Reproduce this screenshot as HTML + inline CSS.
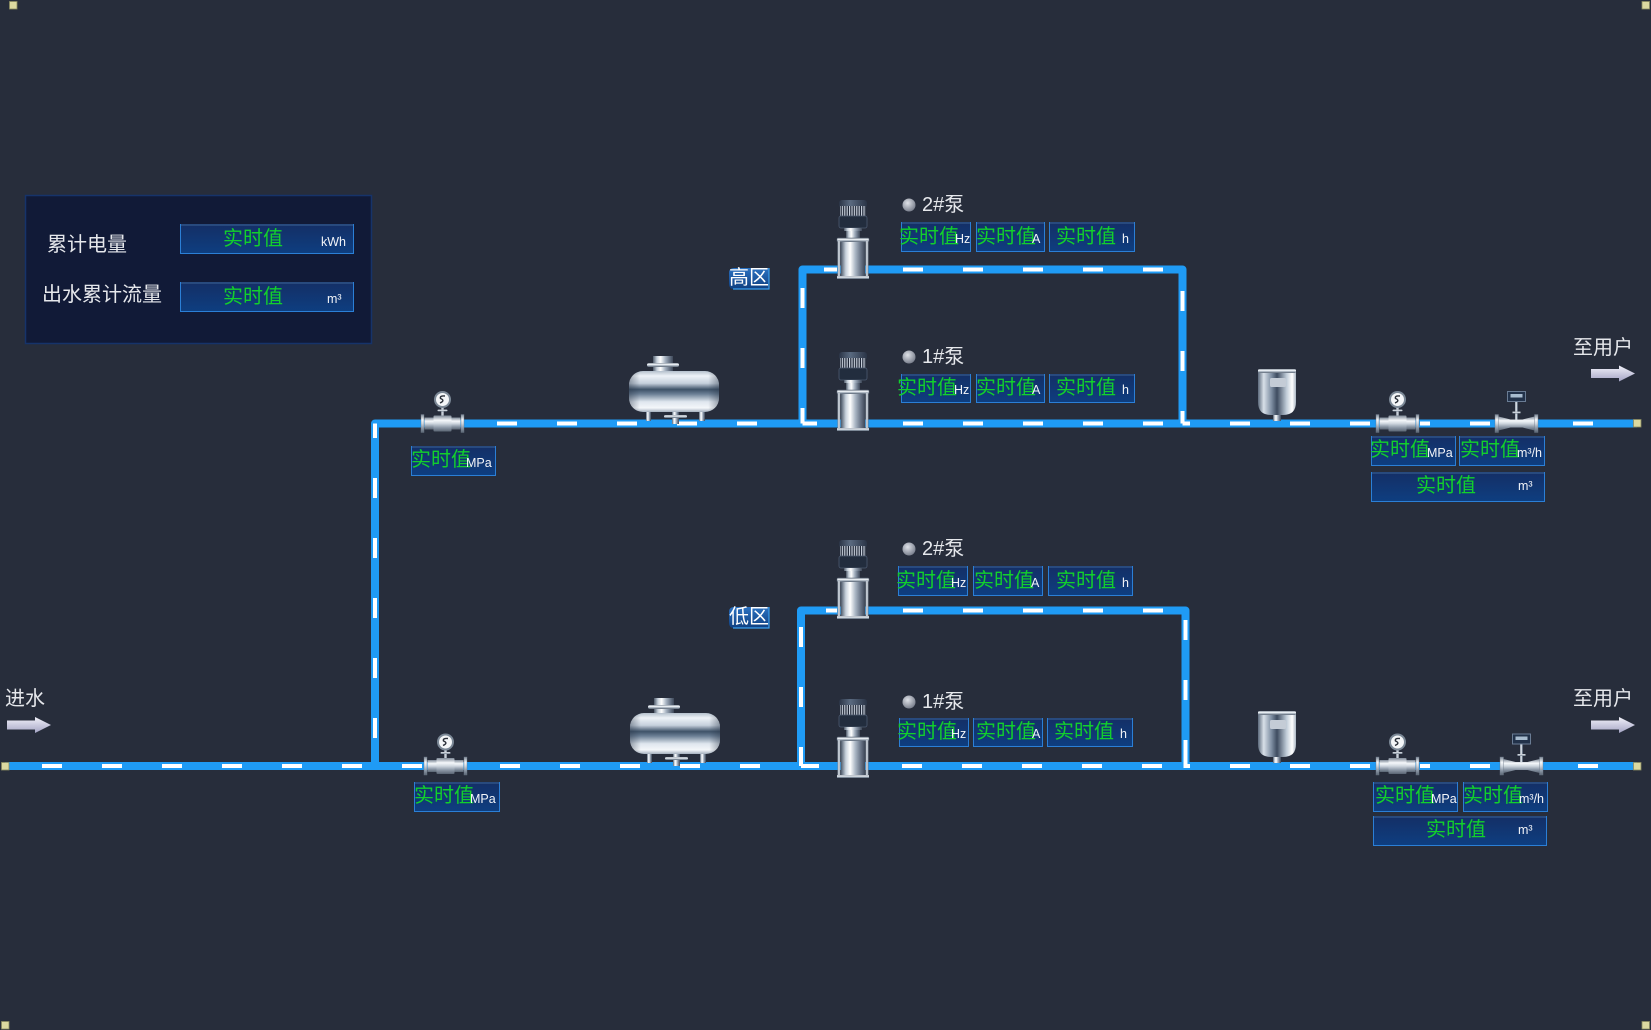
<!DOCTYPE html>
<html><head><meta charset="utf-8"><style>
html,body{margin:0;padding:0;background:#272d3b;}
svg{display:block;}
text{font-family:"Liberation Sans","Noto Sans CJK SC",sans-serif;}
.v{fill:#12d02c;font-size:20px;dominant-baseline:central;}
.u{fill:#f2f4f8;font-size:12.5px;dominant-baseline:central;}
.l{fill:#e6e8ec;font-size:20px;dominant-baseline:central;}
</style></head><body>
<svg width="1651" height="1030" viewBox="0 0 1651 1030" xmlns="http://www.w3.org/2000/svg">
<defs>
<linearGradient id="silverV" x1="0" y1="0" x2="0" y2="1">
<stop offset="0" stop-color="#7d8896"/><stop offset="0.3" stop-color="#f5f8fb"/><stop offset="0.5" stop-color="#d0d8e0"/><stop offset="0.75" stop-color="#8d99a8"/><stop offset="1" stop-color="#5a6573"/></linearGradient>
<linearGradient id="silverH" x1="0" y1="0" x2="1" y2="0">
<stop offset="0" stop-color="#4e5a6a"/><stop offset="0.2" stop-color="#c8d2dc"/><stop offset="0.38" stop-color="#ffffff"/><stop offset="0.6" stop-color="#aab6c4"/><stop offset="0.82" stop-color="#6a7688"/><stop offset="1" stop-color="#3e4858"/></linearGradient>
<linearGradient id="rodG" x1="0" y1="0" x2="1" y2="0">
<stop offset="0" stop-color="#6a7686"/><stop offset="0.5" stop-color="#e8eef4"/><stop offset="1" stop-color="#5a6676"/></linearGradient>
<linearGradient id="tankG" x1="0" y1="0" x2="0" y2="1">
<stop offset="0" stop-color="#b4c0cc"/><stop offset="0.12" stop-color="#eef3f8"/><stop offset="0.3" stop-color="#c6d0dc"/><stop offset="0.45" stop-color="#3e5268"/><stop offset="0.56" stop-color="#6a7e94"/><stop offset="0.75" stop-color="#dfe6ee"/><stop offset="0.9" stop-color="#f4f7fa"/><stop offset="1" stop-color="#a4b0be"/></linearGradient>
<linearGradient id="tankEdge" x1="0" y1="0" x2="1" y2="0">
<stop offset="0" stop-color="#283446" stop-opacity="0.4"/><stop offset="0.12" stop-color="#283446" stop-opacity="0"/><stop offset="0.88" stop-color="#283446" stop-opacity="0"/><stop offset="1" stop-color="#283446" stop-opacity="0.4"/></linearGradient>
<linearGradient id="accG" x1="0" y1="0" x2="1" y2="0">
<stop offset="0" stop-color="#5c6a7c"/><stop offset="0.15" stop-color="#d8e0e8"/><stop offset="0.35" stop-color="#8090a4"/><stop offset="0.5" stop-color="#3e4c60"/><stop offset="0.75" stop-color="#c0ccd8"/><stop offset="0.9" stop-color="#ffffff"/><stop offset="1" stop-color="#aab6c4"/></linearGradient>
<linearGradient id="capG" x1="0" y1="0" x2="1" y2="0">
<stop offset="0" stop-color="#2a3446"/><stop offset="0.4" stop-color="#5a6a80"/><stop offset="1" stop-color="#2a3446"/></linearGradient>
<linearGradient id="boxG" x1="0" y1="0" x2="0" y2="1">
<stop offset="0" stop-color="#142f66"/><stop offset="1" stop-color="#0e3e80"/></linearGradient>
<linearGradient id="zoneG" x1="0" y1="0" x2="0" y2="1">
<stop offset="0" stop-color="#2b72c2"/><stop offset="1" stop-color="#0f3f80"/></linearGradient>
<linearGradient id="arrowG" x1="0" y1="0" x2="0" y2="1">
<stop offset="0" stop-color="#f2f2fa"/><stop offset="1" stop-color="#a4a4c4"/></linearGradient>
<radialGradient id="dotG" cx="0.4" cy="0.35" r="0.7">
<stop offset="0" stop-color="#dfe2e8"/><stop offset="1" stop-color="#747a88"/></radialGradient>
<pattern id="fins" width="2.4" height="12" patternUnits="userSpaceOnUse"><rect width="1.2" height="12" fill="#c8d0dc"/></pattern>

<g id="pump">
 <rect x="2" y="1" width="28" height="8" rx="3" fill="url(#capG)"/>
 <rect x="3" y="7" width="26" height="11" fill="#1c2433"/>
 <rect x="3" y="7" width="26" height="11" fill="url(#fins)"/>
 <rect x="2" y="17" width="28" height="12" rx="2" fill="#222d3e" stroke="#4c5a70" stroke-width="0.8"/>
 <rect x="7" y="29" width="18" height="3" fill="url(#silverH)"/>
 <rect x="9" y="32" width="14" height="8" fill="url(#silverH)"/>
 <rect x="0" y="39" width="32" height="4" rx="1" fill="url(#silverV)" stroke="#5a6676" stroke-width="0.5"/>
 <rect x="4" y="43" width="24" height="36" fill="url(#silverH)"/>
 <rect x="0.5" y="42" width="3" height="37" fill="url(#rodG)"/>
 <rect x="28.5" y="42" width="3" height="37" fill="url(#rodG)"/>
 <rect x="0" y="77" width="32" height="3" fill="url(#silverV)"/>
</g>
<g id="tank">
 <rect x="24" y="0" width="20" height="16" fill="url(#silverH)"/>
 <rect x="18" y="7" width="32" height="4" rx="2" fill="url(#silverV)"/>
 <rect x="17" y="54" width="5" height="11" fill="url(#silverH)"/>
 <rect x="70" y="54" width="6" height="11" fill="url(#silverH)"/>
 <rect x="43" y="54" width="7" height="14" fill="url(#silverH)"/>
 <rect x="35" y="59" width="23" height="3" rx="1.5" fill="url(#silverV)"/>
 <rect x="0" y="15" width="90" height="41" rx="14" fill="url(#tankG)"/>
 <rect x="0" y="15" width="90" height="41" rx="14" fill="url(#tankEdge)"/>
</g>
<g id="acc">
 <rect x="15" y="44" width="8" height="8" fill="url(#silverH)"/>
 <path d="M0 3 H38 V33 Q38 46 25 46 H13 Q0 46 0 33 Z" fill="url(#accG)"/>
 <rect x="0" y="0" width="38" height="4" rx="1.5" fill="url(#silverV)"/>
 <rect x="12" y="9" width="16" height="9" rx="1.5" fill="#c4ccd6"/>
</g>
<g id="pv">
 <rect x="-18" y="-6" width="36" height="12" fill="url(#silverV)"/>
 <rect x="-9" y="-8" width="18" height="16" rx="1" fill="url(#silverV)"/>
 <rect x="-21.5" y="-9" width="3" height="18" fill="url(#silverV)" stroke="#6a7686" stroke-width="0.4"/>
 <rect x="18.5" y="-9" width="3" height="18" fill="url(#silverV)" stroke="#6a7686" stroke-width="0.4"/>
 <rect x="-1.2" y="-17" width="2.4" height="9" fill="#c8d0da"/>
 <rect x="-5" y="-14" width="10" height="2" rx="1" fill="url(#silverV)"/>
 <circle cx="0" cy="-24" r="7.5" fill="#f4f6f8" stroke="#7b8896" stroke-width="2"/>
 <path d="M2.5 -27.5 Q-3 -28 -2 -25 Q3 -23 -2.5 -20.5" stroke="#2a2f38" stroke-width="1.4" fill="none"/>
</g>
<g id="fm">
 <rect x="-1.5" y="-22" width="3" height="18" fill="url(#silverH)"/>
 <rect x="-4" y="-12" width="8" height="2" fill="url(#silverV)"/>
 <path d="M-18 -7 L-6 -4 H6 L18 -7 V7 L6 4 H-6 L-18 7 Z" fill="url(#silverV)"/>
 <rect x="-21.5" y="-9" width="3.5" height="18" fill="url(#silverV)" stroke="#6a7686" stroke-width="0.4"/>
 <rect x="18" y="-9" width="3.5" height="18" fill="url(#silverV)" stroke="#6a7686" stroke-width="0.4"/>
 <rect x="-9" y="-32" width="18" height="10" fill="#22324a" stroke="#6a7c94" stroke-width="1"/>
 <rect x="-6" y="-29.5" width="12" height="3.5" fill="#a8bccf"/>
</g>
<g id="arrow"><path d="M0 -4.5 H28 V-8 L44 0 L28 8 V4.5 H0 Z" fill="url(#arrowG)"/></g>
</defs>

<rect width="1651" height="1030" fill="#272d3b"/>

<!-- panel -->
<rect x="25.5" y="195.5" width="346" height="148" fill="#111a37" stroke="#16336a" stroke-width="1.5"/>
<text class="l" x="47" y="245">累计电量</text>
<text class="l" x="42" y="295">出水累计流量</text>

<!-- pipes -->
<g fill="none" stroke="#1f9bf5" stroke-width="8" stroke-linejoin="round">
 <path d="M5 766 H1637"/>
 <path d="M375 766 V423.5 H1637"/>
 <path d="M802.5 423.5 V269.5 H1182.5 V423.5"/>
 <path d="M801 766 V610.5 H1185.5 V766"/>
</g>
<!-- dashes -->
<g fill="none" stroke="#ffffff" stroke-width="4">
 <g stroke-dasharray="20 40">
  <path d="M42 766 H362"/>
  <path d="M500 766 H760"/>
  <path d="M902 766 H1162"/>
  <path d="M1230 766 H1370"/>
  <path d="M497 423.5 H757"/>
  <path d="M903 423.5 H1163"/>
  <path d="M1230 423.5 H1370"/>
  <path d="M903 269.5 H1163"/>
  <path d="M903 610.5 H1163"/>
  <path d="M375 478 V738"/>
  <path d="M802.5 288 V423.5"/>
  <path d="M1182.5 291 V423.5"/>
  <path d="M801 627 V766"/>
  <path d="M1185.5 620 V766"/>
 </g>
 <path d="M402 766 H422"/>
 <path d="M801 766 H819"/>
 <path d="M1420 766 H1430"/>
 <path d="M1470 766 H1490"/>
 <path d="M1578 766 H1598"/>
 <path d="M375 423.5 V438"/>
 <path d="M802.5 423.5 H817"/>
 <path d="M1182.5 423.5 H1190"/>
 <path d="M1420 423.5 H1430"/>
 <path d="M1470 423.5 H1490"/>
 <path d="M1573 423.5 H1593"/>
 <path d="M824 269.5 H837"/>
 <path d="M826 610.5 H837"/>
 <path d="M1185.5 758 V766 H1190"/>
</g>

<!-- equipment -->
<use href="#tank" x="629" y="356"/>
<use href="#tank" x="630" y="698"/>
<use href="#pump" x="837" y="199"/>
<use href="#pump" x="837" y="351"/>
<use href="#pump" x="837" y="539"/>
<use href="#pump" x="837" y="698"/>
<use href="#acc" x="1258" y="369"/>
<use href="#acc" x="1258" y="711"/>
<use href="#pv" x="442.5" y="423.5"/>
<use href="#pv" x="445.5" y="766"/>
<use href="#pv" x="1397.5" y="423.5"/>
<use href="#pv" x="1397.5" y="766"/>
<use href="#fm" x="1516.5" y="423.5"/>
<use href="#fm" x="1521.5" y="766"/>

<!-- value boxes -->
<g fill="url(#boxG)" stroke="#2b7fd6" stroke-width="1">
 <rect x="180.5" y="224.5" width="173" height="29"/>
 <rect x="180.5" y="282.5" width="173" height="29"/>
 <rect x="901.5" y="222.5" width="69" height="29"/>
 <rect x="976.5" y="222.5" width="68" height="29"/>
 <rect x="1049.5" y="222.5" width="85" height="29"/>
 <rect x="901.5" y="374.5" width="69" height="28"/>
 <rect x="976.5" y="374.5" width="68" height="28"/>
 <rect x="1049.5" y="374.5" width="85" height="28"/>
 <rect x="898.5" y="566.5" width="69" height="29"/>
 <rect x="973.5" y="566.5" width="69" height="29"/>
 <rect x="1048.5" y="566.5" width="84" height="29"/>
 <rect x="899.5" y="718.5" width="69" height="28"/>
 <rect x="973.5" y="718.5" width="69" height="28"/>
 <rect x="1047.5" y="718.5" width="85" height="28"/>
 <rect x="411.5" y="446.5" width="84" height="29"/>
 <rect x="414.5" y="782.5" width="85" height="29"/>
 <rect x="1371.5" y="436.5" width="84" height="29"/>
 <rect x="1459.5" y="436.5" width="85" height="29"/>
 <rect x="1371.5" y="472.5" width="173" height="29"/>
 <rect x="1373.5" y="782.5" width="84" height="29"/>
 <rect x="1463.5" y="782.5" width="84" height="29"/>
 <rect x="1373.5" y="816.5" width="173" height="29"/>
</g>
<!-- darker top edges -->
<g fill="#284a7e">
 <rect x="181" y="224" width="172" height="2"/><rect x="181" y="282" width="172" height="2"/>
 <rect x="902" y="222" width="68" height="2"/><rect x="977" y="222" width="67" height="2"/><rect x="1050" y="222" width="84" height="2"/>
 <rect x="902" y="374" width="68" height="2"/><rect x="977" y="374" width="67" height="2"/><rect x="1050" y="374" width="84" height="2"/>
 <rect x="899" y="566" width="68" height="2"/><rect x="974" y="566" width="68" height="2"/><rect x="1049" y="566" width="83" height="2"/>
 <rect x="900" y="718" width="68" height="2"/><rect x="974" y="718" width="68" height="2"/><rect x="1048" y="718" width="84" height="2"/>
 <rect x="412" y="446" width="83" height="2"/><rect x="415" y="782" width="84" height="2"/>
 <rect x="1372" y="436" width="83" height="2"/><rect x="1460" y="436" width="84" height="2"/><rect x="1372" y="472" width="172" height="2"/>
 <rect x="1374" y="782" width="83" height="2"/><rect x="1464" y="782" width="83" height="2"/><rect x="1374" y="816" width="172" height="2"/>
</g>

<!-- values -->
<text class="v" x="223" y="239">实时值</text><text class="u" x="321" y="242">kWh</text>
<text class="v" x="223" y="297">实时值</text><text class="u" x="327" y="299">m³</text>

<text class="v" x="899" y="237">实时值</text><text class="u" x="955" y="239">Hz</text>
<text class="v" x="976" y="237">实时值</text><text class="u" x="1032" y="239">A</text>
<text class="v" x="1056" y="237">实时值</text><text class="u" x="1122" y="239">h</text>

<text class="v" x="897" y="388">实时值</text><text class="u" x="954" y="390">Hz</text>
<text class="v" x="976" y="388">实时值</text><text class="u" x="1032" y="390">A</text>
<text class="v" x="1056" y="388">实时值</text><text class="u" x="1122" y="390">h</text>

<text class="v" x="896" y="581">实时值</text><text class="u" x="951" y="583">Hz</text>
<text class="v" x="974" y="581">实时值</text><text class="u" x="1031" y="583">A</text>
<text class="v" x="1056" y="581">实时值</text><text class="u" x="1122" y="583">h</text>

<text class="v" x="897" y="732">实时值</text><text class="u" x="951" y="734">Hz</text>
<text class="v" x="976" y="732">实时值</text><text class="u" x="1032" y="734">A</text>
<text class="v" x="1054" y="732">实时值</text><text class="u" x="1120" y="734">h</text>

<text class="v" x="411" y="460">实时值</text><text class="u" x="466" y="463">MPa</text>
<text class="v" x="414" y="796">实时值</text><text class="u" x="470" y="799">MPa</text>

<text class="v" x="1370" y="450">实时值</text><text class="u" x="1427" y="453">MPa</text>
<text class="v" x="1460" y="450">实时值</text><text class="u" x="1517" y="453">m³/h</text>
<text class="v" x="1416" y="486">实时值</text><text class="u" x="1518" y="486">m³</text>

<text class="v" x="1375" y="796">实时值</text><text class="u" x="1431" y="799">MPa</text>
<text class="v" x="1463" y="796">实时值</text><text class="u" x="1519" y="799">m³/h</text>
<text class="v" x="1426" y="830">实时值</text><text class="u" x="1518" y="830">m³</text>

<!-- pump labels -->
<circle cx="909" cy="205" r="6.5" fill="url(#dotG)"/><text class="l" x="922" y="205">2#泵</text>
<circle cx="909" cy="357" r="6.5" fill="url(#dotG)"/><text class="l" x="922" y="357">1#泵</text>
<circle cx="909" cy="549" r="6.5" fill="url(#dotG)"/><text class="l" x="922" y="549">2#泵</text>
<circle cx="909" cy="702" r="6.5" fill="url(#dotG)"/><text class="l" x="922" y="702">1#泵</text>

<!-- zone labels -->
<path d="M734 268 H769 V289 H734 Q729 289 729 284 V273 Q729 268 734 268 Z" fill="url(#zoneG)"/>
<path d="M769 268 V289 H733" fill="none" stroke="#3aa0f0" stroke-width="1.2"/>
<text class="l" x="729" y="278" style="fill:#ffffff">高区</text>
<path d="M734 607 H769 V628 H734 Q729 628 729 623 V612 Q729 607 734 607 Z" fill="url(#zoneG)"/>
<path d="M769 607 V628 H733" fill="none" stroke="#3aa0f0" stroke-width="1.2"/>
<text class="l" x="729" y="617" style="fill:#ffffff">低区</text>

<!-- inlet / outlet -->
<text class="l" x="5" y="699">进水</text>
<use href="#arrow" x="7" y="725"/>
<text class="l" x="1573" y="348">至用户</text>
<use href="#arrow" x="1591" y="373.5"/>
<text class="l" x="1573" y="699">至用户</text>
<use href="#arrow" x="1591" y="725"/>

<!-- markers -->
<g fill="#dcd9a0" stroke="#8a8a60" stroke-width="0.8">
 <rect x="1.5" y="762.5" width="7.5" height="7.5"/>
 <rect x="1633.5" y="419.5" width="7.5" height="7.5"/>
 <rect x="1633.5" y="762.5" width="7.5" height="7.5"/>
 <rect x="9.5" y="1.5" width="7.5" height="7.5"/>
 <rect x="1642" y="1.5" width="7.5" height="7.5"/>
 <rect x="1.5" y="1021.5" width="7.5" height="7.5"/>
 <rect x="1642" y="1021.5" width="7.5" height="7.5"/>
</g>
</svg>
</body></html>
